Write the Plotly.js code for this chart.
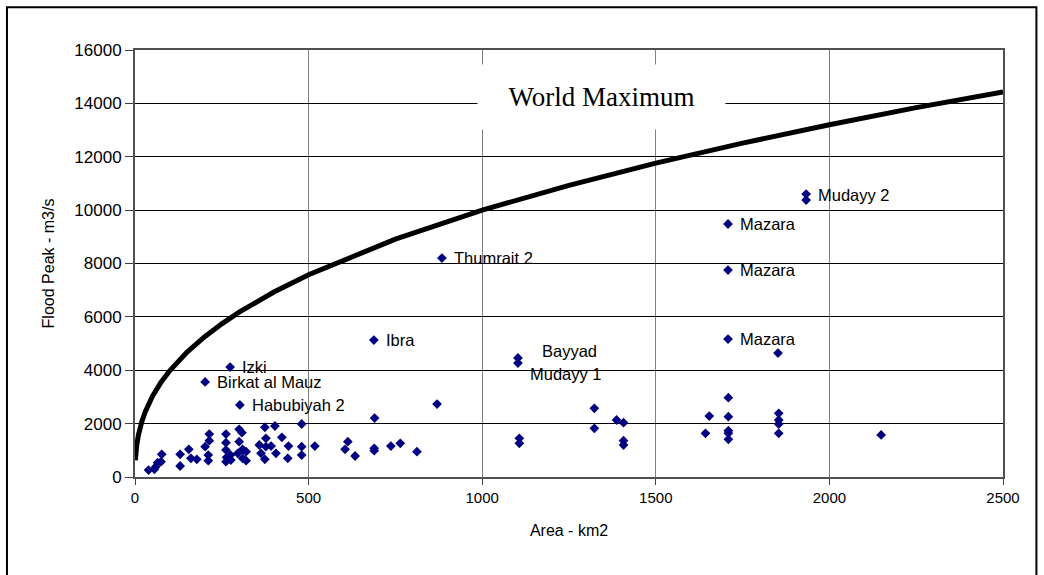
<!DOCTYPE html>
<html>
<head>
<meta charset="utf-8">
<script src="https://cdn.plot.ly/plotly-3.0.1.min.js"></script>
<style>
html,body{margin:0;padding:0;background:#fff;}
#chart{width:1044px;height:575px;}
</style>
</head>
<body>
<div id="chart"></div>
<script>
// World maximum envelope
const envArea = [1, 2, 3, 5, 10, 15, 20, 30, 50, 75, 100, 150, 200, 250, 300, 400, 500, 750, 1000, 1250, 1500, 1750, 2000, 2250, 2500];
const envPeak = [630, 830, 980, 1200, 1580, 1860, 2090, 2460, 3020, 3550, 3980, 4680, 5250, 5740, 6180, 6930, 7580, 8910, 10000, 10930, 11760, 12510, 13200, 13840, 14430];

// Observed floods (area km2, peak m3/s)
const areaKm2 = [
  39, 56, 60, 65, 75, 77, 130, 130, 155, 161, 178,
  202, 211, 214, 214, 211, 262, 262, 262, 264, 262, 275, 276,
  300, 308, 300, 310, 296, 320, 320, 310,
  358, 363, 374, 377, 377, 374, 392, 403, 406,
  423, 442, 440, 480, 480, 480, 518, 613, 605, 634,
  689, 689, 690, 737, 764, 812, 870,
  1107, 1107, 1323, 1323, 1387, 1407, 1407, 1407,
  1643, 1654, 1709, 1709, 1709, 1709, 1709,
  1854, 1854, 1854, 1854, 2149,
  274, 202, 302, 688, 884, 1103, 1103, 1708, 1708, 1708, 1852, 1933, 1933
];
const peakM3s = [
  262, 288, 386, 536, 573, 850, 850, 412, 1038, 700, 663,
  1135, 824, 1611, 1360, 611, 1611, 1285, 1012, 737, 573, 824, 637,
  1787, 1660, 1323, 1038, 888, 948, 611, 700,
  1199, 888, 1862, 1450, 1135, 663, 1161, 1911, 888,
  1487, 1161, 700, 1986, 1135, 824, 1161, 1323, 1038, 787,
  1075, 985, 2210, 1161, 1262, 948, 2735,
  1450, 1262, 2574, 1825, 2136, 2035, 1360, 1199,
  1637, 2285, 2971, 2260, 1735, 1637, 1412,
  2386, 2136, 1986, 1637, 1574,
  4121, 3560, 2700, 5133, 8205, 4460, 4270, 9480, 7756, 5170, 4646, 10603, 10378
];

// Labelled floods
const labelNames = ["Izki", "Birkat al Mauz", "Habubiyah 2", "Ibra", "Thumrait 2", "Bayyad", "Mudayy 1", "Mazara", "Mazara", "Mazara", "Mudayy 2"];
const labelArea  = [274, 202, 302, 688, 884, 1103, 1103, 1708, 1708, 1708, 1933];
const labelPeak  = [4121, 3560, 2700, 5133, 8205, 4460, 4270, 9480, 7756, 5170, 10603];
const labelXShift = [10, 10, 10, 10, 10, 22, 10, 10, 10, 10, 10];
const labelYShift = [0, 0, 0, 0, 0, 7, -11, 0, 0, 0, -1];

const xTicks = [0, 500, 1000, 1500, 2000, 2500];
const yTicks = [0, 2000, 4000, 6000, 8000, 10000, 12000, 14000, 16000];

const traces = [
  {
    x: envArea, y: envPeak, type: 'scatter', mode: 'lines',
    line: {color: '#000', width: 5},
    hoverinfo: 'skip', showlegend: false
  },
  {
    x: areaKm2, y: peakM3s, type: 'scatter', mode: 'markers',
    marker: {symbol: 'diamond', color: '#000080', size: 7.5},
    showlegend: false
  }
];

const annotations = labelNames.map((t, i) => ({
  x: labelArea[i], y: labelPeak[i], xref: 'x', yref: 'y',
  text: t, showarrow: false, xanchor: 'left', yanchor: 'middle',
  xshift: labelXShift[i], yshift: labelYShift[i],
  font: {family: 'Liberation Sans, Arial, sans-serif', size: 16.5, color: '#000'}
}));

annotations.push({
  x: 1345, y: 14250, xref: 'x', yref: 'y',
  text: 'World Maximum', showarrow: false,
  xanchor: 'center', yanchor: 'middle',
  bgcolor: '#fff', width: 245, height: 62,
  font: {family: 'Liberation Serif, Times New Roman, serif', size: 27, color: '#000'}
});

const layout = {
  width: 1044, height: 575,
  margin: {l: 135, r: 41, t: 50, b: 98},
  paper_bgcolor: '#fff', plot_bgcolor: '#fff',
  font: {family: 'Liberation Sans, Arial, sans-serif', size: 16, color: '#000'},
  xaxis: {
    range: [0, 2500], tickvals: xTicks, ticktext: xTicks.map(String),
    showgrid: true, gridcolor: '#808080', gridwidth: 1.3,
    zeroline: false, showline: true, linecolor: '#505050', linewidth: 2, mirror: true,
    ticks: 'outside', ticklen: 6, tickcolor: '#404040',
    tickfont: {size: 15},
    title: {text: 'Area - km2', font: {size: 16}, standoff: 20}
  },
  yaxis: {
    range: [0, 16000], tickvals: yTicks, ticktext: yTicks.map(String),
    showgrid: true, gridcolor: '#000', gridwidth: 1,
    zeroline: false, showline: true, linecolor: '#505050', linewidth: 2, mirror: true,
    ticks: 'outside', ticklen: 8, tickcolor: '#404040',
    tickfont: {size: 17},
    title: {text: 'Flood Peak - m3/s', font: {size: 16}, standoff: 16}
  },
  annotations: annotations,
  shapes: [
    {type: 'rect', xref: 'paper', yref: 'paper',
     x0: -0.1475, x1: 1.0385, y0: -0.25, y1: 1.1, line: {color: '#000', width: 2}}
  ]
};

Plotly.newPlot('chart', traces, layout, {displayModeBar: false, staticPlot: true});
</script>
</body>
</html>
